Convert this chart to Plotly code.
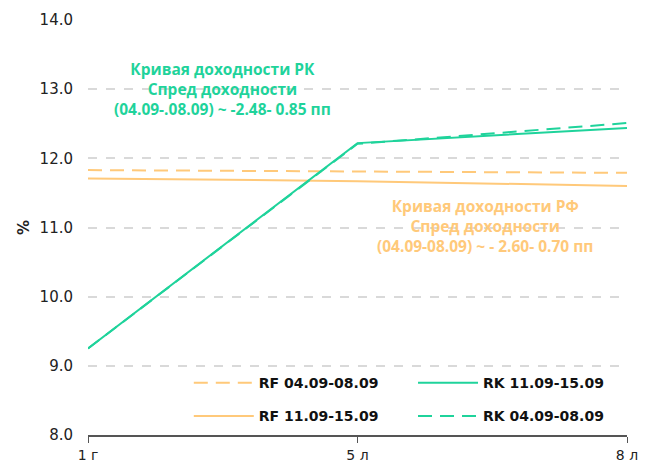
import plotly.graph_objects as go

categories = ["1 г", "5 л", "8 л"]
rf_0408 = [11.83, 11.81, 11.79]
rf_1115 = [11.71, 11.67, 11.60]
rk_1115 = [9.25, 12.22, 12.44]
rk_0408 = [9.25, 12.21, 12.51]
y_ticks = [8.0, 9.0, 10.0, 11.0, 12.0, 13.0, 14.0]

GREEN = "#1FD39B"
ORANGE = "#FFC97A"
DASH = "14px,8px"

fig = go.Figure()
fig.add_trace(go.Scatter(x=categories, y=rf_0408, mode="lines", name="RF 04.09-08.09",
                         line=dict(color=ORANGE, width=2, dash=DASH), legend="legend",
                         legendgroup="a"))
fig.add_trace(go.Scatter(x=categories, y=rf_1115, mode="lines", name="RF 11.09-15.09",
                         line=dict(color=ORANGE, width=2), legend="legend", legendgroup="b"))
fig.add_trace(go.Scatter(x=categories, y=rk_1115, mode="lines", name="RK 11.09-15.09",
                         line=dict(color=GREEN, width=2), legend="legend2", legendgroup="c"))
fig.add_trace(go.Scatter(x=categories, y=rk_0408, mode="lines", name="RK 04.09-08.09",
                         line=dict(color=GREEN, width=2, dash=DASH), legend="legend2",
                         legendgroup="d"))

ann_font = dict(family="Open Sans", size=15.5, weight="bold")
fig.add_annotation(x=0.25, y=13.0, xref="paper", yref="y", xanchor="center", showarrow=False,
                   text="Кривая доходности РК<br>Спред доходности<br>(04.09-.08.09) ~ -2.48- 0.85 пп",
                   font=dict(color=GREEN, **ann_font), align="center")
fig.add_annotation(x=0.737, y=11.02, xref="paper", yref="y", xanchor="center", showarrow=False,
                   text="Кривая доходности РФ<br>Спред доходности<br>(04.09-08.09) ~ - 2.60- 0.70 пп",
                   font=dict(color=ORANGE, **ann_font), align="center")

leg_common = dict(orientation="v", yanchor="middle", itemwidth=60, tracegroupgap=12,
                  font=dict(family="DejaVu Sans", size=14, color="#111111", weight="bold"),
                  bgcolor="rgba(0,0,0,0)", traceorder="grouped")
# page body adds an 8px offset, so the figure is sized/margined to compensate
fig.update_layout(
    width=645, height=458,
    margin=dict(l=80, r=26, t=12, b=31),
    plot_bgcolor="white", paper_bgcolor="white",
    font=dict(family="DejaVu Sans", size=15, color="#222222"),
    showlegend=True,
    legend=dict(x=0.187, xanchor="left", y=0.085, **leg_common),
    legend2=dict(x=0.603, xanchor="left", y=0.085, **leg_common),
)
fig.update_xaxes(type="category", range=[0, 2], showgrid=False, showline=True,
                 linecolor="#555555", linewidth=1.5, ticks="outside", ticklen=6,
                 tickcolor="#555555", tickfont=dict(family="DejaVu Sans", size=14),
                 automargin=False)
fig.update_yaxes(range=[8, 14], tickvals=y_ticks, ticktext=[f"{v:.1f}" for v in y_ticks],
                 showgrid=True, gridcolor="#D9D9D9", griddash="dash", gridwidth=1.5,
                 zeroline=False, showline=False, ticks="", ticklabelstandoff=14,
                 tickfont=dict(family="DejaVu Sans", size=15),
                 automargin=False,
                 title=dict(text="<b>%</b>", standoff=6, font=dict(family="DejaVu Sans", size=15)))

fig.write_html("out.html")
